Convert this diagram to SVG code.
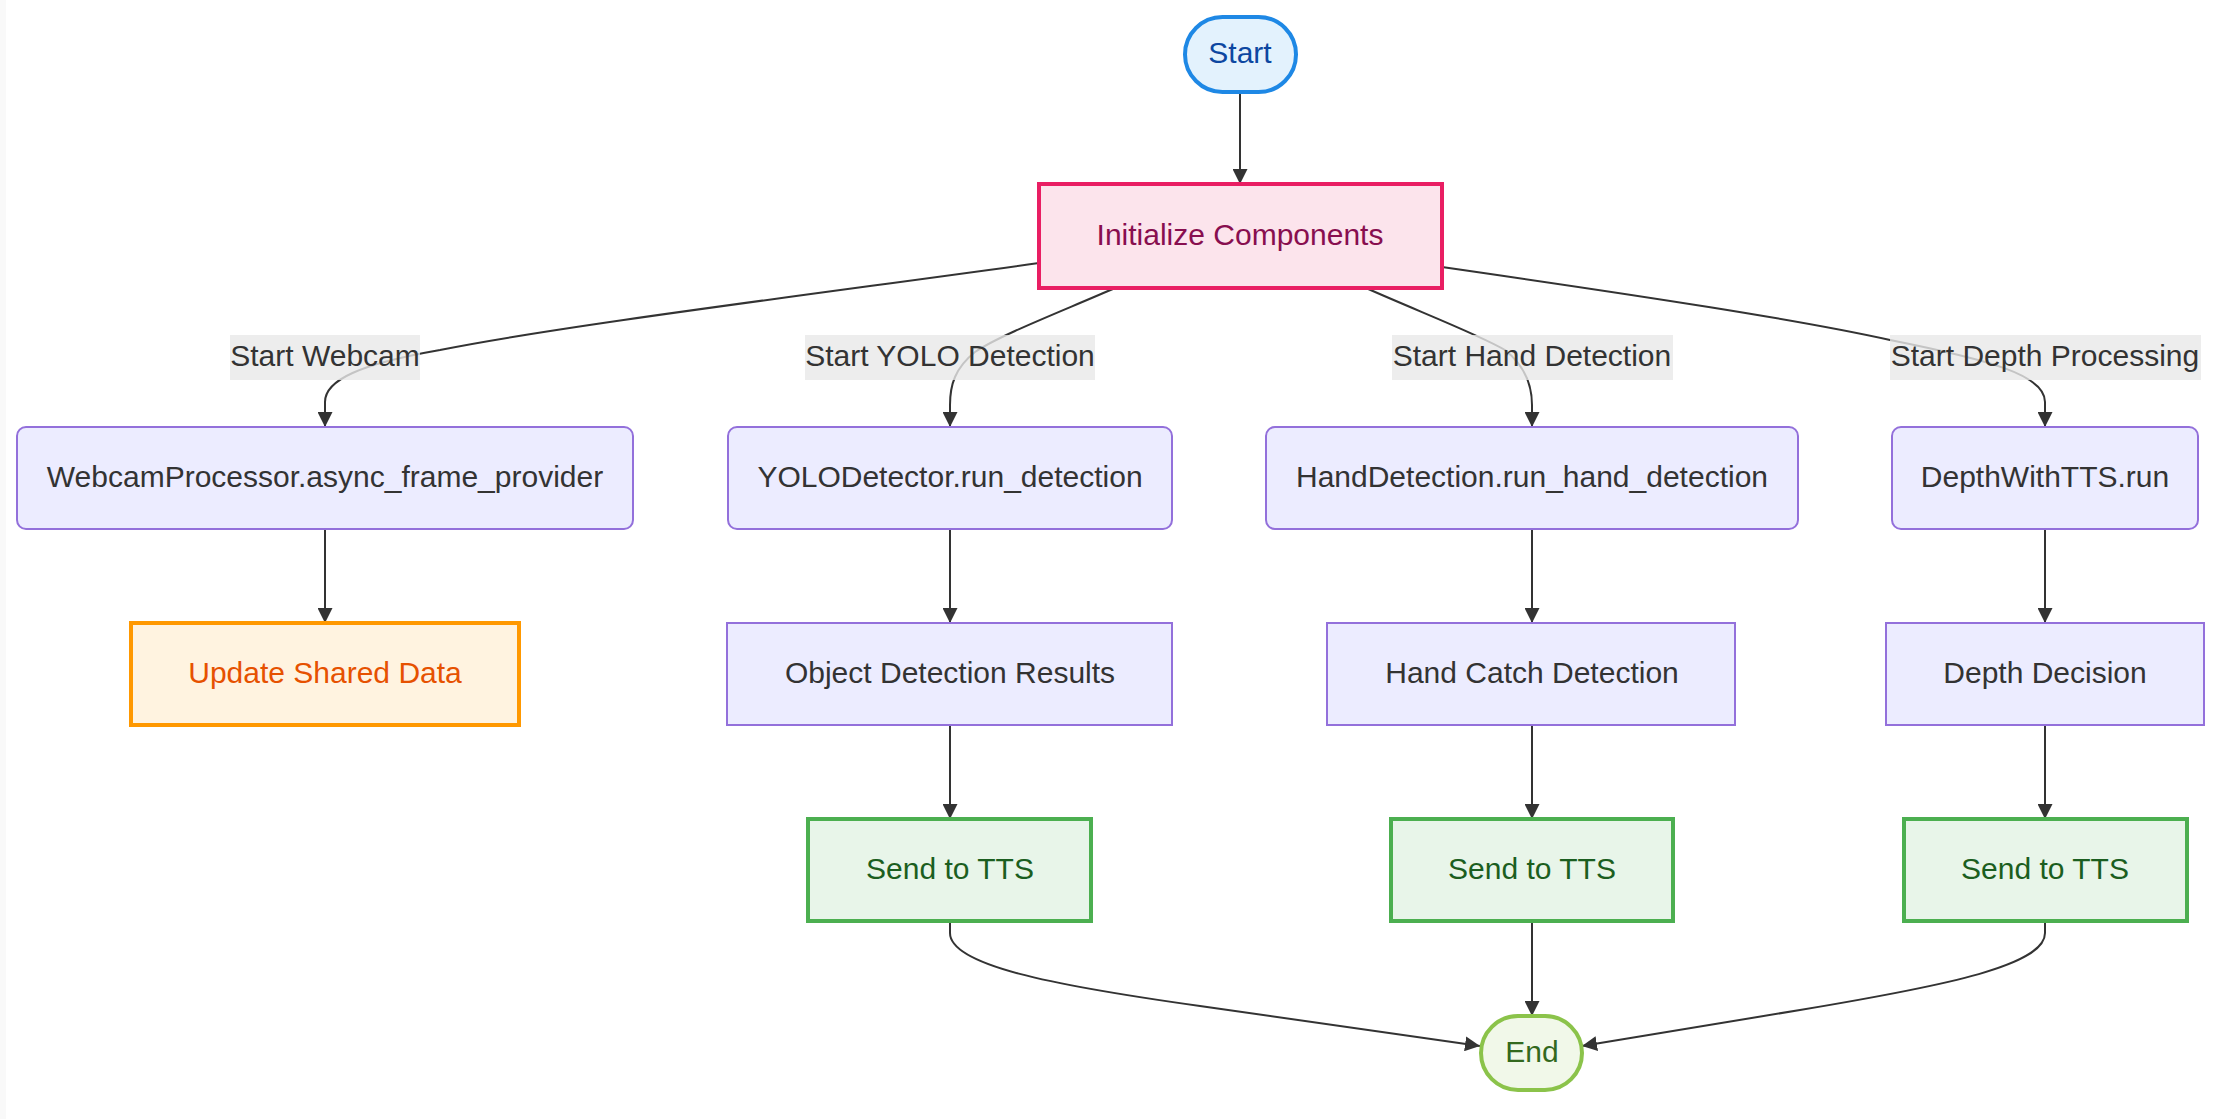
<svg xmlns="http://www.w3.org/2000/svg" width="2225" height="1119" viewBox="0 0 2225 1119">
<style>
text{font-family:"Liberation Sans",Arial,sans-serif;font-size:30px;text-anchor:middle;dominant-baseline:central}
.def rect{fill:#ECECFF;stroke:#9370DB;stroke-width:2}
.def text{fill:#333}
.edge{fill:none;stroke:#333;stroke-width:2}
.lbl rect{fill:#e8e8e8;fill-opacity:0.8}
.lbl text{fill:#333}
.tts rect{fill:#e8f5e9;stroke:#4caf50;stroke-width:4}
.tts text{fill:#1b5e20}
</style>
<defs>
<marker id="arr" viewBox="0 0 10 10" refX="10" refY="5" markerWidth="15" markerHeight="15" markerUnits="userSpaceOnUse" orient="auto">
<path d="M0,0 L10,5 L0,10 z" fill="#333"/>
</marker>
</defs>
<rect x="0" y="0" width="2225" height="1119" fill="#fff"/>
<rect x="0" y="0" width="6" height="1119" fill="#f9f9f9"/>
<g id="connectors">
<path class="edge" marker-end="url(#arr)" d="M1240,92 L1240,184"/>
<path class="edge" marker-end="url(#arr)" d="M1039,263 C800,296 560,326 440,350 C360,364 325,380 325,402 L325,427"/>
<path class="edge" marker-end="url(#arr)" d="M1115,288 C1060,312 1000,335 975,352 C955,368 950,385 950,405 L950,427"/>
<path class="edge" marker-end="url(#arr)" d="M1366,288 C1420,312 1480,335 1505,350 C1525,366 1532,385 1532,405 L1532,427"/>
<path class="edge" marker-end="url(#arr)" d="M1442,267 C1650,297 1800,320 1890,340 C1990,360 2045,375 2045,402 L2045,427"/>
<path class="edge" marker-end="url(#arr)" d="M325,529 L325,623"/>
<path class="edge" marker-end="url(#arr)" d="M950,529 L950,623"/>
<path class="edge" marker-end="url(#arr)" d="M950,725 L950,819"/>
<path class="edge" marker-end="url(#arr)" d="M1532,529 L1532,623"/>
<path class="edge" marker-end="url(#arr)" d="M1532,725 L1532,819"/>
<path class="edge" marker-end="url(#arr)" d="M2045,529 L2045,623"/>
<path class="edge" marker-end="url(#arr)" d="M2045,725 L2045,819"/>
<path class="edge" marker-end="url(#arr)" d="M950,921 L950,933 C950,965 1050,985 1200,1006 L1480,1046"/>
<path class="edge" marker-end="url(#arr)" d="M1532,921 L1532,1016"/>
<path class="edge" marker-end="url(#arr)" d="M2045,921 L2045,933 C2045,965 1950,985 1800,1010 L1582,1046"/>
</g>
<g id="labels">
<g class="lbl"><rect x="230" y="335" width="190" height="45"/><text x="325" y="355">Start Webcam</text></g>
<g class="lbl"><rect x="805" y="335" width="290" height="45"/><text x="950" y="355">Start YOLO Detection</text></g>
<g class="lbl"><rect x="1392" y="335" width="281" height="45"/><text x="1532" y="355">Start Hand Detection</text></g>
<g class="lbl"><rect x="1890" y="335" width="311" height="45"/><text x="2045" y="355">Start Depth Processing</text></g>
</g>
<g id="start"><rect x="1185" y="17" width="111" height="75" rx="37.5" fill="#e3f2fd" stroke="#1e88e5" stroke-width="4"/><text x="1240" y="52" fill="#0d47a1">Start</text></g>
<g id="init"><rect x="1039" y="184" width="403" height="104" fill="#fce4ec" stroke="#e91e63" stroke-width="4"/><text x="1240" y="234" fill="#880e4f">Initialize Components</text></g>
<g id="webcam" class="def"><rect x="17" y="427" width="616" height="102" rx="9"/><text x="325" y="476">WebcamProcessor.async_frame_provider</text></g>
<g id="yolo" class="def"><rect x="728" y="427" width="444" height="102" rx="9"/><text x="950" y="476">YOLODetector.run_detection</text></g>
<g id="hand" class="def"><rect x="1266" y="427" width="532" height="102" rx="9"/><text x="1532" y="476">HandDetection.run_hand_detection</text></g>
<g id="depth" class="def"><rect x="1892" y="427" width="306" height="102" rx="9"/><text x="2045" y="476">DepthWithTTS.run</text></g>
<g id="update"><rect x="131" y="623" width="388" height="102" fill="#fff3e0" stroke="#ff9800" stroke-width="4"/><text x="325" y="672" fill="#e65100">Update Shared Data</text></g>
<g id="objres" class="def"><rect x="727" y="623" width="445" height="102"/><text x="950" y="672">Object Detection Results</text></g>
<g id="handcatch" class="def"><rect x="1327" y="623" width="408" height="102"/><text x="1532" y="672">Hand Catch Detection</text></g>
<g id="depthdec" class="def"><rect x="1886" y="623" width="318" height="102"/><text x="2045" y="672">Depth Decision</text></g>
<g id="tts1" class="tts"><rect x="808" y="819" width="283" height="102"/><text x="950" y="868">Send to TTS</text></g>
<g id="tts2" class="tts"><rect x="1391" y="819" width="282" height="102"/><text x="1532" y="868">Send to TTS</text></g>
<g id="tts3" class="tts"><rect x="1904" y="819" width="283" height="102"/><text x="2045" y="868">Send to TTS</text></g>
<g id="end"><rect x="1481" y="1016" width="101" height="74" rx="37" fill="#f1f8e9" stroke="#8bc34a" stroke-width="4"/><text x="1532" y="1051" fill="#33691e">End</text></g>
</svg>
